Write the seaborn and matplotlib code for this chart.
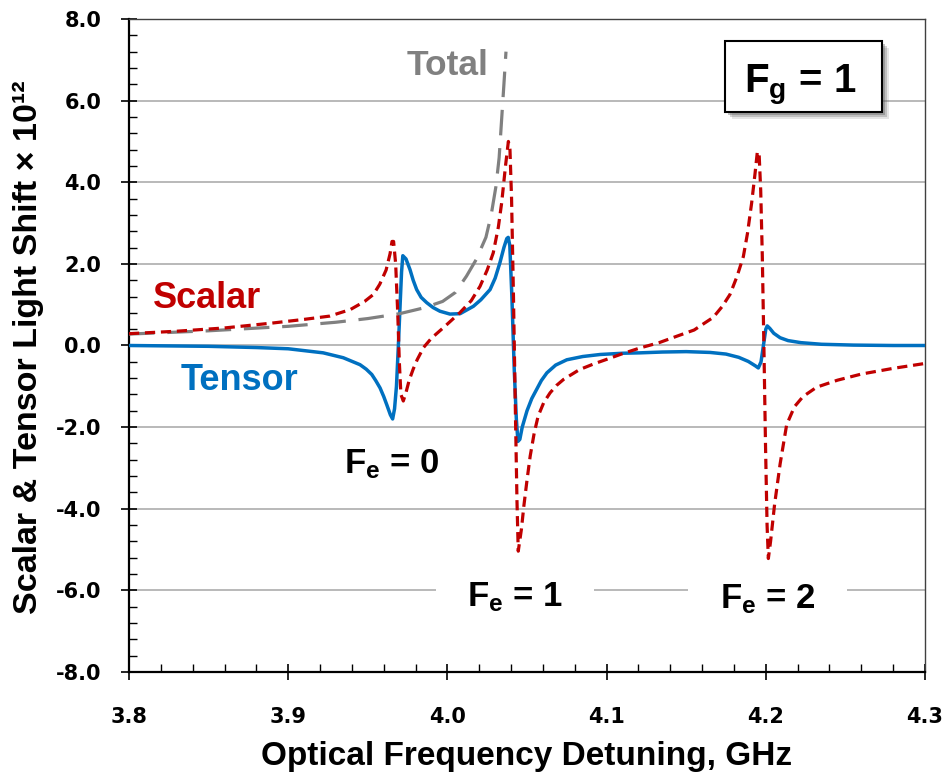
import matplotlib
matplotlib.use("Agg")
import matplotlib.pyplot as plt
from matplotlib.patches import Rectangle
from matplotlib.ticker import MultipleLocator, FormatStrFormatter
import seaborn as sns
import pandas as pd

# values: detuning in GHz, light shift x 1e12
tensor_x = [3.800, 3.850, 3.880, 3.900, 3.922, 3.9346, 3.9451, 3.949, 3.9525, 3.955,
            3.9577, 3.960, 3.9619, 3.9642, 3.9656, 3.9668, 3.968, 3.9692, 3.9703, 3.9712,
            3.972, 3.974, 3.9765, 3.9785, 3.9807, 3.9835, 3.987, 3.991, 3.9953, 4.0016,
            4.008, 4.0163, 4.021, 4.0268, 4.030, 4.033, 4.0355, 4.0373, 4.0382, 4.0392,
            4.0405, 4.042, 4.0433, 4.0443, 4.0455, 4.047, 4.050, 4.053, 4.056, 4.059,
            4.0625, 4.068, 4.075, 4.085, 4.096, 4.110, 4.121, 4.135, 4.150, 4.165,
            4.175, 4.183, 4.189, 4.1935, 4.1953, 4.197, 4.1985, 4.200, 4.2009, 4.2025,
            4.205, 4.209, 4.214, 4.222, 4.235, 4.255, 4.280, 4.300]
tensor_y = [0.00, -0.02, -0.05, -0.08, -0.18, -0.30, -0.47, -0.58, -0.71, -0.86,
            -1.04, -1.25, -1.45, -1.70, -1.80, -1.55, -1.00, 0.00, 1.00, 1.80,
            2.20, 2.12, 1.86, 1.60, 1.37, 1.18, 1.05, 0.93, 0.84, 0.77,
            0.78, 0.96, 1.12, 1.37, 1.65, 2.03, 2.40, 2.62, 2.65, 2.45,
            1.20, -0.60, -1.80, -2.35, -2.30, -2.00, -1.60, -1.30, -1.08, -0.86,
            -0.67, -0.48, -0.35, -0.27, -0.22, -0.19, -0.18, -0.16, -0.15, -0.17,
            -0.21, -0.29, -0.39, -0.50, -0.55, -0.40, 0.00, 0.40, 0.48, 0.42,
            0.30, 0.19, 0.12, 0.07, 0.03, 0.01, 0.00, 0.00]

scalar_x = [3.800, 3.830, 3.860, 3.890, 3.910, 3.926, 3.939, 3.948, 3.9535, 3.9575,
            3.9615, 3.964, 3.9652, 3.9662, 3.9675, 3.9688, 3.9698, 3.9708, 3.9723, 3.974,
            3.976, 3.9785, 3.981, 3.985, 3.990, 3.997, 4.008, 4.015, 4.0205, 4.025,
            4.0288, 4.032, 4.0341, 4.0365, 4.0383, 4.0393, 4.0403, 4.0415, 4.0427, 4.0437,
            4.0445, 4.0465, 4.048, 4.050, 4.052, 4.0545, 4.057, 4.0605, 4.0645, 4.0685,
            4.073, 4.083, 4.092, 4.100, 4.110, 4.121, 4.133, 4.145, 4.155, 4.167,
            4.1725, 4.1775, 4.182, 4.1859, 4.1885, 4.1911, 4.1932, 4.1947, 4.1958, 4.1968,
            4.1978, 4.1988, 4.1998, 4.2008, 4.2016, 4.203, 4.2055, 4.209, 4.2131, 4.218,
            4.2234, 4.232, 4.245, 4.260, 4.280, 4.300]
scalar_y = [0.29, 0.35, 0.43, 0.55, 0.64, 0.72, 0.88, 1.08, 1.25, 1.50,
            1.85, 2.25, 2.55, 2.55, 2.00, 0.80, -0.40, -1.20, -1.36, -1.15,
            -0.85, -0.58, -0.35, -0.05, 0.18, 0.42, 0.81, 1.10, 1.45, 1.85,
            2.27, 2.90, 3.50, 4.40, 5.00, 4.80, 3.60, 1.20, -1.60, -3.80,
            -5.04, -4.50, -3.94, -3.30, -2.71, -2.15, -1.73, -1.40, -1.16, -0.98,
            -0.83, -0.59, -0.45, -0.34, -0.20, -0.06, 0.07, 0.24, 0.38, 0.69,
            0.95, 1.25, 1.70, 2.18, 2.75, 3.49, 4.20, 4.75, 4.70, 3.80,
            2.20, 0.00, -2.40, -4.40, -5.22, -4.80, -3.90, -2.90, -1.94, -1.50,
            -1.25, -1.02, -0.85, -0.70, -0.56, -0.44]

total_x = [3.800, 3.850, 3.900, 3.930, 3.950, 3.970, 3.985, 3.997, 4.005, 4.012,
           4.018, 4.0242, 4.0275, 4.0305, 4.0325, 4.034, 4.0355, 4.0368]
total_y = [0.28, 0.36, 0.47, 0.57, 0.66, 0.78, 0.92, 1.08, 1.30, 1.70,
           2.10, 2.65, 3.20, 3.90, 4.60, 5.50, 6.40, 7.20]

sns.set_style("white")
plt.rcParams['font.family'] = ['Liberation Sans', 'DejaVu Sans']
plt.rcParams['font.weight'] = 'bold'
plt.rcParams['axes.labelweight'] = 'bold'
plt.rcParams['text.color'] = 'black'
plt.rcParams['axes.labelcolor'] = 'black'
plt.rcParams['mathtext.fontset'] = 'custom'
plt.rcParams['mathtext.rm'] = 'Liberation Sans:bold'
plt.rcParams['mathtext.it'] = 'Liberation Sans:bold'
plt.rcParams['mathtext.bf'] = 'Liberation Sans:bold'

blue = '#0070C0'
red = '#C00000'
grey = '#808080'

fig = plt.figure(figsize=(9.49, 7.79), dpi=100)
ax = fig.add_axes([129/949, 1 - 672/779, 796/949, 653/779])

df_t = pd.DataFrame({'x': tensor_x, 'y': tensor_y})
df_s = pd.DataFrame({'x': scalar_x, 'y': scalar_y})
df_tot = pd.DataFrame({'x': total_x, 'y': total_y})

sns.lineplot(data=df_t, x='x', y='y', ax=ax, sort=False, estimator=None,
             color=blue, lw=2.5, zorder=3)
sns.lineplot(data=df_tot, x='x', y='y', ax=ax, sort=False, estimator=None,
             color=grey, lw=2.3, linestyle=(0, (8, 4)), zorder=3)
sns.lineplot(data=df_s, x='x', y='y', ax=ax, sort=False, estimator=None,
             color=red, lw=2.3, linestyle=(0, (3.2, 1.8)), zorder=4)

ax.set_xlim(3.8, 4.3)
ax.set_ylim(-8, 8)
ax.xaxis.set_major_locator(MultipleLocator(0.1))
ax.xaxis.set_minor_locator(MultipleLocator(0.02))
ax.yaxis.set_major_locator(MultipleLocator(2.0))
ax.yaxis.set_minor_locator(MultipleLocator(0.4))
ax.xaxis.set_major_formatter(FormatStrFormatter('%.1f'))
ax.yaxis.set_major_formatter(FormatStrFormatter('%.1f'))

ax.set_axisbelow(True)
ax.yaxis.grid(True, color='#A6A6A6', lw=1.1)
ax.xaxis.grid(False)

ax.tick_params(which='major', direction='inout', length=12, width=1.2,
               bottom=True, left=True, labelsize=15,
               labelfontfamily='DejaVu Sans', colors='black')
ax.tick_params(axis='x', which='major', pad=19)
ax.tick_params(axis='y', which='major', pad=14)
ax.tick_params(which='minor', direction='in', length=6, width=1,
               bottom=True, left=True, colors='black')

for side in ['left', 'bottom']:
    ax.spines[side].set_color('black')
    ax.spines[side].set_linewidth(1.6)
for side in ['top', 'right']:
    ax.spines[side].set_color('#404040')
    ax.spines[side].set_linewidth(1.0)

ax.set_xlabel('Optical Frequency Detuning, GHz', fontsize=24, fontweight='bold', color='black')
ax.xaxis.set_label_coords(0.5, -0.142)
ax.xaxis.label.set_va('baseline')
ax.set_ylabel('Scalar & Tensor Light Shift × 10¹²', fontsize=24.5, fontweight='bold', color='black')
ax.yaxis.set_label_coords(-0.107, 0.498)

# curve labels
ax.text(3.9998, 6.64, 'Total', color=grey, fontsize=25.5, ha='center', va='baseline')
ax.text(3.8488, 0.92, 'Scalar', color=red, fontsize=26, ha='center', va='baseline')
ax.text(3.8697, -1.10, 'Tensor', color=blue, fontsize=26, ha='center', va='baseline')
ax.text(3.9648, -3.12, 'F$_{e}$ = 0', color='black', fontsize=25, ha='center', va='baseline')
for lx, ly, lab in [(4.0425, -6.40, 'F$_{e}$ = 1'), (4.2011, -6.45, 'F$_{e}$ = 2')]:
    ax.text(lx, ly, lab, color='black', fontsize=25, ha='center', va='baseline', zorder=1.5,
            bbox=dict(boxstyle='square,pad=0.9', fc='white', ec='none'))

# F_g box with a soft shadow
x0, y0, w, h = 0.7487, 0.8576, 0.1973, 0.1087
for k, a in [(7, 0.15), (5, 0.25), (3, 0.35)]:
    ax.add_patch(Rectangle((x0 + k / 796, y0 - k / 653), w, h, transform=ax.transAxes,
                           fc='#555555', ec='none', alpha=a, zorder=5))
ax.add_patch(Rectangle((x0, y0), w, h, transform=ax.transAxes,
                       fc='white', ec='black', lw=1.5, zorder=6))
ax.text(0.843, 0.888, 'F$_{g}$ = 1', transform=ax.transAxes, color='black',
        fontsize=29, ha='center', va='baseline', zorder=7)

fig.savefig('out.png', dpi=100)
